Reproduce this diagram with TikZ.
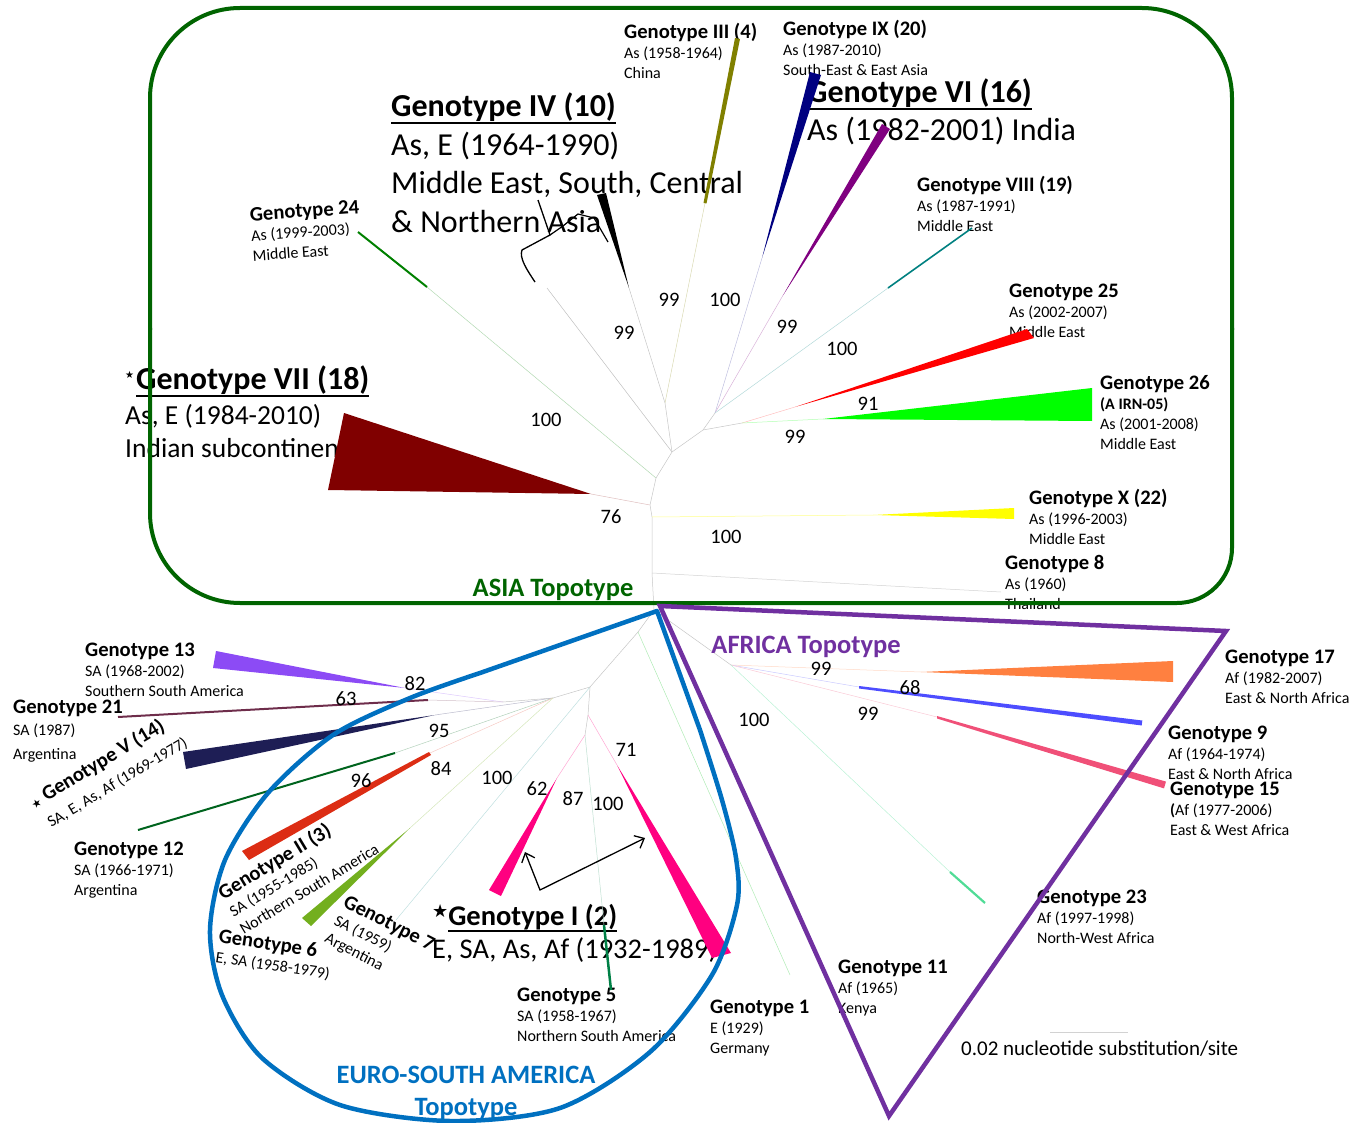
\documentclass[tikz,border=0pt]{standalone}
\usepackage{fontspec}
\setmainfont{Carlito}
\newfontfamily\djv{DejaVu Sans}
\usetikzlibrary{arrows.meta}
\definecolor{asiag}{RGB}{0,100,0}
\definecolor{esab}{RGB}{0,112,192}
\definecolor{afp}{RGB}{112,48,160}
\definecolor{kIII}{RGB}{128,128,0}
\definecolor{kIX}{RGB}{0,0,128}
\definecolor{kVI}{RGB}{128,0,128}
\definecolor{kVIII}{RGB}{0,128,128}
\definecolor{kXXV}{RGB}{255,0,0}
\definecolor{kXXVI}{RGB}{0,255,0}
\definecolor{kX}{RGB}{255,255,0}
\definecolor{kVII}{RGB}{128,0,0}
\definecolor{kXXIV}{RGB}{0,128,0}
\definecolor{kXIII}{RGB}{140,75,245}
\definecolor{kXXI}{RGB}{110,45,75}
\definecolor{kV}{RGB}{30,30,85}
\definecolor{kXII}{RGB}{0,100,30}
\definecolor{kII}{RGB}{220,45,20}
\definecolor{kSix}{RGB}{115,175,30}
\definecolor{kI}{RGB}{255,0,128}
\definecolor{kFive}{RGB}{0,128,70}
\definecolor{kXVII}{RGB}{255,128,64}
\definecolor{kNine}{RGB}{77,77,255}
\definecolor{kXV}{RGB}{240,80,120}
\definecolor{kXXIII}{RGB}{80,220,150}
\definecolor{kOne}{RGB}{175,235,180}
\newsavebox\ulbox
\newcommand\myul[2][8pt]{\sbox\ulbox{#2}\rlap{\rule[-#1]{\wd\ulbox}{2pt}}\usebox\ulbox}
\newcommand\hd[1]{\rule{0pt}{16pt}{\bfseries\fontsize{20.6}{20}\selectfont #1}}
\newcommand\bstar[2]{\raisebox{#2}{\djv\fontsize{#1}{#1}\selectfont ★}}
\begin{document}
\begin{tikzpicture}[x=1pt,y=-1pt,
  lbl/.style={font=\fontsize{16}{20}\selectfont, align=left, inner sep=0pt, anchor=north west},
  bigl/.style={font=\fontsize{32}{38.5}\selectfont, align=left, inner sep=0pt, anchor=north west},
  bs/.style={font=\fontsize{20.5}{22}\selectfont, inner sep=0pt},
  br/.style={line width=0.5pt},
  topo/.style={font=\bfseries\fontsize{26.5}{30}\selectfont, inner sep=0pt, anchor=base},
  asiab/.style={asiag, line width=4pt}]
\useasboundingbox (0,0) rectangle (1355,1123);

% ---------- text blocks ----------
\node[lbl] (n3) at (624,22.5) {\hd{Genotype III (4)}\\As (1958-1964)\\China};
\node[lbl] (n9) at (783,19.5) {\hd{Genotype IX (20)}\\As (1987-2010)\\South-East \& East Asia};
\node[bigl] (n6) at (807,77) {\rule{0pt}{25pt}\textbf{\myul{Genotype VI (16)}}\\As (1982-2001) India};
\node[bigl] (n4) at (391,91) {\rule{0pt}{25pt}\textbf{\myul{Genotype IV (10)}}\\[0.5pt]As, E (1964-1990)\\Middle East, South, Central\\\& Northern Asia};
\node[lbl, rotate=4] (n24) at (249,205) {\hd{Genotype 24}\\As (1999-2003)\\Middle East};
\node[lbl] (n8v) at (917,175.5) {\hd{Genotype VIII (19)}\\As (1987-1991)\\Middle East};
\node[lbl] (n25) at (1009,281.5) {\hd{Genotype 25}\\As (2002-2007)\\Middle East};
\node[lbl] (n26) at (1100,373.5) {\hd{Genotype 26}\\\textbf{(A IRN-05)}\\As (2001-2008)\\Middle East};
\node[lbl] (nX) at (1029,488.5) {\hd{Genotype X (22)}\\As (1996-2003)\\Middle East};
\node[lbl] (n8) at (1005,553.5) {\hd{Genotype 8}\\As (1960)\\Thailand};
\node[anchor=north west, inner sep=0pt, align=left, font=\fontsize{27.5}{33}\selectfont] (n7) at (125,364)
  {\rule{0pt}{25pt}\bstar{10}{11pt}\hspace{2pt}{\fontsize{32}{33}\selectfont\bfseries\myul{Genotype VII (18)}}\\[2pt]As, E (1984-2010)\\Indian subcontinent};

\node[lbl] (n13) at (85,640.5) {\hd{Genotype 13}\\SA (1968-2002)\\Southern South America};
\node[lbl] (n21) at (13,697.5) {\hd{Genotype 21}\\[2pt]SA (1987)\\[4pt]Argentina};
\node[lbl, rotate=31] (nV) at (25.8,795.3) {\hd{\bstar{11}{0pt} Genotype V (14)}\\[5pt]\hspace{5pt}SA, E, As, Af (1969-1977)};
\node[lbl] (n12) at (74,839.5) {\hd{Genotype 12}\\SA (1966-1971)\\Argentina};
\node[lbl, rotate=31] (nII) at (214.8,886.3) {\hd{Genotype II (3)}\\SA (1955-1985)\\Northern South America};
\node[lbl, rotate=-8.5] (n6g) at (220.4,926.2) {\hd{Genotype 6}\\E, SA (1958-1979)};
\node[lbl, rotate=-27] (n7g) at (349.3,891.7) {\hd{Genotype 7}\\SA (1959)\\Argentina};
\node[anchor=north west, inner sep=0pt, align=left, font=\fontsize{28.5}{33}\selectfont] (nI) at (432,903)
  {\rule{0pt}{22pt}\bstar{18}{8pt}{\bfseries\myul[7pt]{Genotype I (2)}}\\E, SA, As, Af (1932-1989)};
\node[lbl] (n5) at (517,985.5) {\hd{Genotype 5}\\SA (1958-1967)\\Northern South America};
\node[lbl] (n1) at (710,997.5) {\hd{Genotype 1}\\E (1929)\\Germany};
\node[lbl] (n11) at (838,957.5) {\hd{Genotype 11}\\Af (1965)\\Kenya};
\node[lbl] (n23) at (1037,887.5) {\hd{Genotype 23}\\Af (1997-1998)\\North-West Africa};
\node[lbl] (n17) at (1225,647.5) {\hd{Genotype 17}\\Af (1982-2007)\\East \& North Africa};
\node[lbl] (n9a) at (1168,723.5) {\hd{Genotype 9}\\Af (1964-1974)\\East \& North Africa};
\node[lbl] (n15) at (1170,779.5) {\hd{Genotype 15}\\\textbf{(}Af (1977-2006)\\East \& West Africa};

\node[anchor=base west, inner sep=0pt, font=\fontsize{21}{24}\selectfont] (scl) at (961,1055) {0.02 nucleotide substitution/site};
\coordinate (sb1) at (1050,1032); \coordinate (sb2) at (1128,1032);
\draw[gray!35, line width=0.8pt] (sb1) -- (sb2);

% ---------- Asia tree ----------
\coordinate (r0) at (654,610);
\coordinate (a1) at (652,573);
\coordinate (a2) at (652,517);
\coordinate (a3) at (650,505);
\coordinate (a4) at (656,478);
\coordinate (a5) at (672,452);
\draw[br,gray!45] (r0) -- (a1) -- (a2) -- (a3) -- (a4) -- (a5);
\coordinate (t8) at (1001,592);
\draw[br,gray!35] (a1) -- (t8);
\coordinate (tx) at (873,515);
\draw[br,kX!45] (a2) -- (tx);
\fill[kX] (tx) -- (1014,508) -- (1014,519) -- cycle;
\coordinate (t7) at (591,494);
\draw[br,kVII!25] (a3) -- (t7);
\fill[kVII] (t7) -- (344,413) -- (328,490) -- cycle;
\coordinate (m24) at (427,287); \coordinate (e24) at (358,232);
\draw[br,kXXIV!30] (a4) -- (m24);
\draw[line width=2pt,kXXIV] (m24) -- (e24);
\coordinate (b1) at (547,288);
\draw[br,gray!50] (a5) -- (b1);
\coordinate (b2) at (665,403);
\draw[br,gray!45] (a5) -- (b2);
\coordinate (t4) at (629,288);
\draw[br,gray!45] (b2) -- (t4);
\fill[black] (t4) -- (597,195) -- (606,193) -- cycle;
\coordinate (t3) at (705,203);
\draw[br,kIII!30] (b2) -- (t3);
\fill[kIII] (703.5,203) -- (706.5,203.5) -- (740,39) -- (735,38) -- cycle;
\draw[line width=1.3pt] (535,282) .. controls (527,270) and (519,258) .. (522,250) -- (550,235) -- (538,200);
\draw[line width=1.2pt] (550,235) -- (563,226) -- (578,214) -- (594,218) -- (608,242);
\coordinate (b3) at (703,430);
\coordinate (b4) at (715,413);
\coordinate (b5) at (742,423);
\draw[br,gray!45] (a5) -- (b3) -- (b4);
\draw[br,gray!45] (b3) -- (b5);
\coordinate (t9) at (762,258);
\draw[br,kIX!25] (b4) -- (t9);
\fill[kIX] (t9) -- (810,72) -- (821,75) -- cycle;
\coordinate (t6) at (782,297);
\draw[br,kVI!30] (b4) -- (t6);
\fill[kVI] (t6) -- (882,124) -- (890,129) -- cycle;
\coordinate (t8v) at (888,288); \coordinate (e8v) at (972,228);
\draw[br,kVIII!30] (b4) -- (t8v);
\draw[line width=1.6pt,kVIII] (t8v) -- (e8v);
\coordinate (t25) at (795,407);
\draw[br,kXXV!25] (b5) -- (t25);
\fill[kXXV] (t25) -- (1027,329) -- (1034,338) -- cycle;
\coordinate (t26) at (823,419);
\draw[br,kXXVI!30] (b5) -- (t26);
\fill[kXXVI] (t26) -- (1092,388) -- (1092,421) -- cycle;

% ---------- Euro-South America tree ----------
\coordinate (e0) at (638,632);
\coordinate (e1) at (590,687);
\coordinate (e2) at (553,698);
\coordinate (e4) at (503,702);
\draw[br,gray!45] (r0) -- (e0) -- (e1) -- (e2) -- (e4);
\coordinate (t1) at (790,975);
\draw[br,kOne] (e0) -- (t1);
\coordinate (t13) at (405,688);
\draw[br,kXIII!30] (e4) -- (t13);
\fill[kXIII] (t13) -- (216,651) -- (213,668) -- cycle;
\coordinate (t21) at (428,700); \coordinate (e21) at (118,717);
\draw[br,kXXI!30] (e4) -- (t21);
\draw[line width=2pt,kXXI] (t21) -- (e21);
\coordinate (tV) at (435,715);
\draw[br,kV!30] (e2) -- (tV);
\fill[kV] (tV) -- (183,752) -- (186,769) -- cycle;
\coordinate (t12) at (395,753); \coordinate (e12) at (138,830);
\draw[br,kXII!30] (e2) -- (t12);
\draw[line width=2pt,kXII] (t12) -- (e12);
\coordinate (tII) at (430,753);
\draw[br,kII!25] (e2) -- (tII);
\fill[kII] (429,752) -- (431,755) -- (249,860) -- (242,851) -- cycle;
\coordinate (t6g) at (410,828);
\draw[br,kSix!30] (e2) -- (t6g);
\fill[kSix] (t6g) -- (302,918) -- (311,926) -- cycle;
\coordinate (t7g) at (396,920);
\draw[br,kVIII!25] (e1) -- (t7g);
\coordinate (e5) at (588,715);
\coordinate (e6) at (585,735);
\draw[br,gray!45] (e1) -- (e5) -- (e6);
\coordinate (t71) at (617,765);
\draw[br,kI!35] (e5) -- (t71);
\fill[kI] (t71) -- (712,958) -- (731,953) -- cycle;
\coordinate (t62) at (557,778);
\draw[br,kI!35] (e6) -- (t62);
\fill[kI] (t62) -- (489,890) -- (501,896) -- cycle;
\coordinate (t5) at (604,925); \coordinate (e5g) at (611,990);
\draw[br,kFive!25] (e6) -- (t5);
\draw[line width=2.5pt,kFive] (t5) -- (e5g);
\coordinate (av) at (540,890);
\coordinate (aL) at (525,852);
\coordinate (aR) at (645,838);
\draw[line width=1.3pt, {Straight Barb[length=8pt,width=14pt]}-{Straight Barb[length=8pt,width=14pt]}] (aL) -- (av) -- (aR);

% ---------- Africa tree ----------
\coordinate (f1) at (731,665);
\draw[br,gray!45] (r0) -- (f1);
\coordinate (t17) at (921,672);
\draw[br,kXVII!30] (f1) -- (t17);
\fill[kXVII] (t17) -- (1173,661) -- (1173,682) -- cycle;
\coordinate (t9a) at (859,687);
\draw[br,kNine!30] (f1) -- (t9a);
\fill[kNine] (859,686) -- (859,688.5) -- (1141.7,725.5) -- (1142.3,720.5) -- cycle;
\coordinate (t15) at (937,717);
\draw[br,kXV!30] (f1) -- (t15);
\fill[kXV] (937,716) -- (937,718.5) -- (1164,788.4) -- (1166,781.6) -- cycle;
\coordinate (t23) at (950,872); \coordinate (e23) at (985,903);
\draw[br,kXXIII!40] (f1) -- (t23);
\draw[line width=2.2pt,kXXIII] (t23) -- (e23);

% ---------- bootstrap values ----------
\foreach \x/\y/\t [count=\i] in {669/300/99, 725/300/100, 624/333/99, 787/327/99, 842/349/100,
  868/404/91, 795/437/99, 546/420/100, 611/517/76, 726/537/100,
  415/684/82, 346/699/63, 439/731/95, 441/769/84, 361/781/96, 497/778/100, 537/789/62,
  573/799/87, 608/804/100, 626/750/71, 821/669/99, 910/688/68, 868/714/99, 754/720/100}
  \node[bs] (bs\i) at (\x,\y) {\t};

% ---------- topotype borders ----------
\draw[asiab, rounded corners=90pt] (150,330) -- (150,8) -- (1232,8) -- (1232,330);
\draw[asiab, rounded corners=55pt] (1232,328) -- (1232,603) -- (700,603);
\draw[asiab, rounded corners=90pt] (702,603) -- (150,603) -- (150,328);
\draw[afp, line width=4.5pt] (660,606) -- (1226,631) -- (889,1116) -- cycle;
\draw[esab, line width=4.5pt, line join=round] (657,611) -- plot[smooth, tension=0.5] coordinates {
  (480,673) (410,698) (333,735) (268,793) (225,860) (210,930) (222,995) (262,1058)
  (340,1105) (450,1121) (560,1108) (650,1052) (712,975) (737,905) (736,858) (722,800) (700,730)} -- cycle;

\node[topo, asiag] (tA) at (553,596) {ASIA Topotype};
\node[topo, afp] (tAf) at (806,653) {AFRICA Topotype};
\node[topo, esab] (tE1) at (466,1083) {EURO-SOUTH AMERICA};
\node[topo, esab] (tE2) at (466,1115) {Topotype};
\end{tikzpicture}
\end{document}
